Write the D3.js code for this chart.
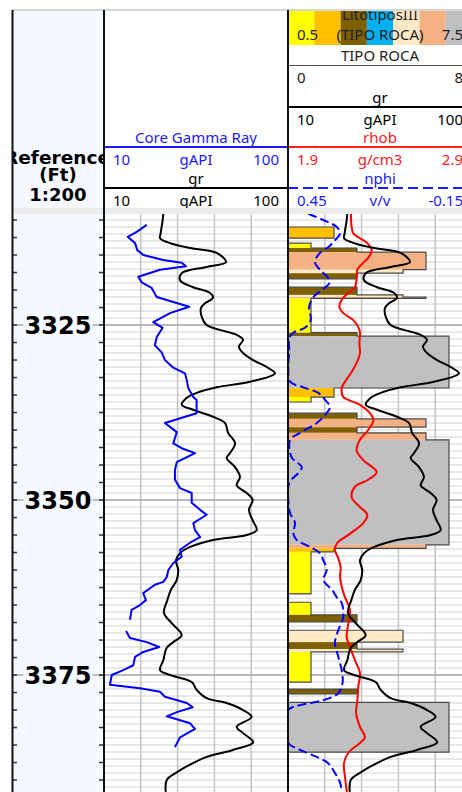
<!DOCTYPE html>
<html>
<head>
<meta charset="utf-8">
<script src="https://cdn.jsdelivr.net/npm/d3@7"></script>
<style>
body { margin: 0; background: #fff; }
svg { display: block; font-family: "Noto Sans", sans-serif; }
</style>
</head>
<body>
<div id="chart"></div>
<script>
// ---- data (depth in ft, value) ----
const grData = [
  [3309.1, 39.0], [3310.0, 38.7], [3311.9, 37.7], [3312.6, 37.4], [3313.3, 42.3], [3314.0, 52.1],
  [3314.7, 65.1], [3316.0, 69.7], [3316.7, 60.2], [3317.6, 48.0], [3318.6, 47.2], [3319.6, 53.5],
  [3320.4, 61.8], [3321.1, 63.3], [3321.9, 59.4], [3322.6, 57.4], [3323.9, 57.9], [3325.0, 60.2],
  [3325.7, 66.7], [3326.4, 74.9], [3327.1, 78.0], [3328.1, 76.0], [3329.0, 78.0], [3330.0, 82.9],
  [3331.0, 89.6], [3331.9, 93.6], [3333.1, 81.4], [3333.9, 65.1], [3334.7, 55.3], [3335.4, 50.5],
  [3336.4, 48.0], [3337.1, 53.5], [3338.1, 63.3], [3339.0, 69.2], [3340.4, 70.7], [3341.9, 74.1],
  [3343.3, 71.6], [3344.0, 70.0], [3345.3, 74.1], [3346.7, 76.5], [3347.9, 74.9], [3349.0, 79.8],
  [3350.0, 82.7], [3351.4, 80.9], [3352.9, 82.7], [3354.3, 84.7], [3355.0, 79.8], [3355.7, 63.3],
  [3356.7, 52.1], [3357.6, 47.2], [3358.6, 45.2], [3360.0, 46.3], [3361.4, 45.6], [3362.9, 42.6],
  [3364.3, 41.0], [3366.1, 39.3], [3367.6, 43.1], [3369.3, 48.0], [3370.3, 43.9], [3371.1, 40.7],
  [3372.9, 39.0], [3374.3, 37.4], [3375.0, 42.3], [3376.0, 52.9], [3377.1, 55.3], [3378.3, 60.2],
  [3379.0, 70.0], [3380.0, 78.0], [3381.0, 82.2], [3382.4, 74.9], [3383.3, 78.0], [3384.6, 83.0],
  [3385.7, 73.1], [3386.7, 60.2], [3387.6, 53.5], [3388.9, 45.6], [3390.0, 40.7], [3391.7, 40.2]
];

const coreGrData = [
  [3310.7, 30.9], [3311.7, 26.0], [3312.4, 21.6], [3313.3, 25.2], [3314.3, 26.3], [3315.0, 29.2],
  [3315.7, 39.0], [3316.1, 48.0], [3316.6, 50.1], [3317.1, 37.4], [3318.1, 26.8], [3318.9, 28.4],
  [3319.7, 33.3], [3321.0, 35.8], [3321.7, 43.9], [3322.4, 51.7], [3323.3, 42.3], [3324.6, 34.1],
  [3325.4, 38.7], [3326.7, 35.8], [3327.9, 34.9], [3328.9, 38.2], [3330.0, 39.8], [3331.1, 43.9],
  [3331.9, 49.6], [3332.9, 50.5], [3334.0, 51.2], [3335.3, 53.7], [3335.7, 55.3], [3337.6, 55.3],
  [3339.0, 39.8], [3340.3, 45.6], [3341.9, 43.9], [3342.6, 48.0], [3343.3, 54.5], [3344.6, 45.6],
  [3345.7, 44.7], [3347.1, 44.7], [3348.3, 47.2], [3349.0, 52.9], [3350.4, 52.9], [3351.4, 57.0],
  [3352.1, 60.2], [3353.3, 53.7], [3354.3, 54.5], [3355.3, 57.0], [3356.1, 52.1], [3357.1, 47.2],
  [3358.1, 48.0], [3359.0, 43.9], [3360.0, 41.5], [3361.0, 40.7], [3361.7, 39.0], [3362.1, 34.9],
  [3363.3, 29.2], [3364.3, 30.5], [3365.0, 27.6], [3365.7, 23.5], [3367.1, 22.7], [3368.0, null],
  [3368.7, 20.8], [3369.7, 22.7], [3370.3, 30.9], [3371.0, 37.0], [3371.7, 29.2], [3372.4, 25.2],
  [3373.6, 24.3], [3374.3, 19.4], [3375.0, 13.8], [3376.4, 12.9], [3376.9, 27.6], [3377.4, 37.4],
  [3378.1, 39.8], [3379.0, 50.5], [3379.6, 53.4], [3380.3, 45.6], [3380.9, 40.7], [3381.9, 52.1],
  [3382.7, 54.5], [3383.9, 47.2], [3385.3, 44.7]
];

const rhobData = [
  [3309.1, 2.242], [3311.0, 2.246], [3311.9, 2.255], [3312.6, 2.291], [3313.3, 2.331], [3314.3, 2.355],
  [3315.4, 2.336], [3316.1, 2.309], [3317.1, 2.277], [3318.3, 2.273], [3319.6, 2.264], [3320.4, 2.228],
  [3321.4, 2.192], [3322.4, 2.179], [3323.3, 2.201], [3324.3, 2.255], [3325.3, 2.282], [3326.1, 2.291],
  [3327.6, 2.288], [3329.0, 2.291], [3330.4, 2.273], [3331.9, 2.241], [3333.1, 2.210], [3334.0, 2.192],
  [3335.3, 2.201], [3335.7, 2.228], [3336.4, 2.291], [3337.6, 2.346], [3338.6, 2.364], [3340.0, 2.336],
  [3341.4, 2.291], [3342.9, 2.273], [3344.3, 2.309], [3346.0, 2.382], [3347.1, 2.336], [3348.1, 2.264],
  [3349.6, 2.246], [3351.0, 2.291], [3352.1, 2.331], [3353.3, 2.309], [3354.3, 2.264], [3355.3, 2.210],
  [3356.1, 2.168], [3357.1, 2.155], [3358.3, 2.173], [3359.6, 2.186], [3361.0, 2.183], [3362.4, 2.192],
  [3363.9, 2.210], [3365.7, 2.237], [3367.6, 2.228], [3369.6, 2.219], [3371.0, 2.237], [3372.9, 2.264],
  [3374.7, 2.291], [3376.7, 2.282], [3378.6, 2.277], [3380.4, 2.270], [3382.4, 2.291], [3383.9, 2.318],
  [3384.7, 2.291], [3386.1, 2.228], [3387.6, 2.204], [3389.6, 2.210], [3391.7, 2.220]
];

const nphiData = [
  [3309.1, 0.384], [3310.0, 0.335], [3311.0, 0.291], [3311.9, 0.280], [3312.9, 0.297], [3313.9, 0.319],
  [3314.7, 0.346], [3316.0, 0.362], [3317.1, 0.346], [3318.3, 0.319], [3319.0, 0.315], [3320.0, 0.340],
  [3321.0, 0.367], [3322.4, 0.381], [3324.3, 0.376], [3325.4, 0.395], [3326.1, 0.433], [3326.9, 0.446],
  [3328.6, 0.446], [3331.0, 0.449], [3333.1, 0.443], [3333.9, 0.400], [3334.7, 0.351], [3335.7, 0.329],
  [3336.7, 0.313], [3337.6, 0.324], [3339.0, 0.356], [3340.4, 0.411], [3341.4, 0.443], [3343.9, 0.438],
  [3345.3, 0.405], [3346.1, 0.416], [3347.6, 0.446], [3350.0, 0.449], [3351.9, 0.443], [3353.3, 0.427],
  [3354.7, 0.433], [3355.7, 0.422], [3356.7, 0.378], [3357.6, 0.346], [3358.6, 0.335], [3360.0, 0.324],
  [3361.4, 0.335], [3362.9, 0.305], [3363.9, 0.291], [3364.7, 0.275], [3366.7, 0.270], [3368.6, 0.286],
  [3370.4, 0.297], [3372.4, 0.286], [3374.3, 0.275], [3376.1, 0.272], [3377.6, 0.286], [3378.6, 0.335],
  [3379.3, 0.411], [3380.0, 0.449], [3382.9, 0.450], [3384.7, 0.449], [3385.7, 0.411], [3386.7, 0.356],
  [3387.6, 0.319], [3389.0, 0.297], [3390.4, 0.280], [3391.7, 0.275]
];

// lithology (TIPO ROCA) intervals
const litoTop  = [3311.0, 3313.3, 3314.0, 3314.6, 3317.1, 3317.6, 3319.6, 3320.7, 3321.0, 3321.2, 3326.1, 3326.6,
                  3334.0, 3335.3, 3337.6, 3338.4, 3339.6, 3340.4, 3341.4, 3356.4, 3356.9, 3357.4, 3364.6, 3366.4,
                  3368.6, 3370.3, 3371.3, 3371.7, 3377.0, 3378.9];
const litoBase = [3312.6, 3314.0, 3314.6, 3317.1, 3317.6, 3318.4, 3320.7, 3321.0, 3321.2, 3326.1, 3326.6, 3334.0,
                  3335.3, 3336.0, 3338.4, 3339.6, 3340.4, 3341.4, 3356.4, 3356.9, 3357.4, 3363.4, 3366.4, 3367.4,
                  3370.3, 3371.3, 3371.7, 3376.0, 3377.7, 3386.0];
const litoCode = [2, 1, 3, 6, 5, 3, 3, 5, 6, 1, 3, 7,
                  2, 1, 3, 6, 3, 6, 7, 6, 2, 1, 1, 3,
                  5, 3, 5, 1, 3, 7];
const litoCodes = [1, 2, 3, 4, 5, 6, 7];
const litoColors = ["#ffff00", "#ffc000", "#7f6000", "#00b0f0", "#ffe9c6", "#f4b183", "#c0c0c0"];

const depthRange = [3309.14, 3391.71];
const depthLabels = [3325, 3350, 3375];

// ---- layout ----
const W = 462, H = 792;
const depthL = 12, depthR = 104;
const t1L = 104, t1R = 288, t2L = 288, t2R = 472;
const headTop = 10, headBot = 208, dataTop = 214;

const svg = d3.select("#chart").append("svg")
    .attr("width", W)
    .attr("height", H);

const y = d3.scaleLinear().domain(depthRange).range([dataTop, H]);
const grX1 = d3.scaleLinear().domain([10, 100]).range([t1L, t1R]);
const grX2 = d3.scaleLinear().domain([10, 100]).range([t2L, t2R]);
const rhobX = d3.scaleLinear().domain([1.9, 2.9]).range([t2L, t2R]);
const nphiX = d3.scaleLinear().domain([0.45, -0.15]).range([t2L, t2R]);
const litoX = d3.scaleLinear().domain([0, 8]).range([t2L, t2R]);
const litoHeadX = d3.scaleLinear().domain([0.5, 7.5]).range([t2L, t2R]);

const defs = svg.append("defs");
function clip(id, x, yy, w, h) {
    defs.append("clipPath").attr("id", id)
        .append("rect").attr("x", x).attr("y", yy).attr("width", w).attr("height", h);
    return "url(#" + id + ")";
}

svg.append("rect").attr("width", W).attr("height", H).attr("fill", "#fff");

// depth column background
svg.append("rect").attr("x", depthL).attr("y", headTop).attr("width", depthR - depthL).attr("height", H - headTop)
    .attr("fill", "#f5f9ff");

// ---- data area grids ----
const grid = svg.append("g").attr("clip-path", clip("gridClip", t1L, dataTop, W - t1L, H - dataTop));
const minorDepths = d3.range(Math.ceil(depthRange[0]), depthRange[1], 1);
grid.selectAll("line.minor").data(minorDepths).join("line")
    .attr("x1", t1L).attr("x2", t2R)
    .attr("y1", d => y(d)).attr("y2", d => y(d))
    .attr("stroke", "#e0e0e0").attr("stroke-width", 1.5);

const vTicks = d3.range(28, 100, 18);
grid.selectAll("line.v1").data(vTicks).join("line")
    .attr("x1", d => grX1(d)).attr("x2", d => grX1(d))
    .attr("y1", dataTop).attr("y2", H)
    .attr("stroke", "#c4c4c4").attr("stroke-width", 1.5);
grid.selectAll("line.v2").data(vTicks).join("line")
    .attr("x1", d => grX2(d)).attr("x2", d => grX2(d))
    .attr("y1", dataTop).attr("y2", H)
    .attr("stroke", "#c4c4c4").attr("stroke-width", 1.5);

// major depth lines across all columns
svg.selectAll("line.major").data(depthLabels).join("line")
    .attr("x1", depthL).attr("x2", W)
    .attr("y1", d => y(d)).attr("y2", d => y(d))
    .attr("stroke", "#a9a9a9").attr("stroke-width", 1.5);

// depth ticks every 2.5 ft
const tickDepths = d3.range(3310, depthRange[1], 2.5);
const dt = svg.append("g");
dt.selectAll("line.tl").data(tickDepths).join("line")
    .attr("x1", depthL).attr("x2", depthL + 5)
    .attr("y1", d => y(d)).attr("y2", d => y(d))
    .attr("stroke", "#333").attr("stroke-width", 1.5);
dt.selectAll("line.tr").data(tickDepths).join("line")
    .attr("x1", depthR - 5).attr("x2", depthR)
    .attr("y1", d => y(d)).attr("y2", d => y(d))
    .attr("stroke", "#333").attr("stroke-width", 1.5);

// depth labels
depthLabels.forEach(d => {
    const g = svg.append("g");
    const bg = g.append("rect").attr("fill", "#f5f9ff");
    const t = g.append("text")
        .attr("x", (depthL + depthR) / 2).attr("y", y(d) + 9)
        .attr("text-anchor", "middle")
        .style("font-family", "'DejaVu Sans', sans-serif")
        .style("font-weight", "bold").style("font-size", "24px")
        .attr("fill", "#000")
        .text(d);
    const w = t.node().getComputedTextLength();
    bg.attr("x", (depthL + depthR) / 2 - w / 2 - 1).attr("width", w + 2)
        .attr("y", y(d) - 3).attr("height", 6);
});

// ---- lithology bars ----
const t2 = svg.append("g").attr("clip-path", clip("t2Clip", t2L, dataTop, t2R - t2L, H - dataTop));
t2.selectAll("rect.lito").data(litoTop).join("rect")
    .attr("x", t2L)
    .attr("y", d => y(d))
    .attr("width", (d, i) => litoX(litoCode[i]) - t2L)
    .attr("height", (d, i) => y(litoBase[i]) - y(d))
    .attr("fill", (d, i) => litoColors[litoCode[i] - 1]);

const outline = [];
litoTop.forEach((t, i) => {
    const b = litoBase[i], c = litoCode[i];
    if (i === 0 || litoBase[i - 1] < t - 1e-6) outline.push([0, t]);
    outline.push([c, t]);
    outline.push([c, b]);
    if (i === litoTop.length - 1 || litoTop[i + 1] > b + 1e-6) outline.push([0, b]);
});
t2.append("path")
    .attr("d", d3.line().x(p => litoX(p[0])).y(p => y(p[1]))(outline))
    .attr("fill", "none").attr("stroke", "#4a4a4a").attr("stroke-width", 1.2);

// ---- curves ----
function curve(g, data, xs, color, smooth, dash) {
    const line = d3.line()
        .defined(d => d[1] != null)
        .x(d => xs(d[1]))
        .y(d => y(d[0]))
        .curve(smooth ? d3.curveCatmullRom.alpha(0.5) : d3.curveLinear);
    g.append("path")
        .attr("d", line(data))
        .attr("fill", "none")
        .attr("stroke", color)
        .attr("stroke-width", 2)
        .attr("stroke-dasharray", dash || null)
        .attr("stroke-linejoin", "round");
}

curve(t2, nphiData, nphiX, "#0000ff", true, "9,4");
curve(t2, rhobData, rhobX, "#ff0000", true);
curve(t2, grData, grX2, "#000000", true);

const t1 = svg.append("g").attr("clip-path", clip("t1Clip", t1L, dataTop, t1R - t1L, H - dataTop));
curve(t1, grData, grX1, "#000000", true);
curve(t1, coreGrData, grX1, "#0000ff", false);

// ---- header ----
svg.append("rect").attr("x", depthL).attr("y", headBot).attr("width", W - depthL).attr("height", dataTop - headBot)
    .attr("fill", "#ebebeb");

const dh = svg.append("g").attr("clip-path", clip("dhClip", depthL + 1, headTop, depthR - depthL - 2, headBot - headTop))
    .style("font-family", "'DejaVu Sans', sans-serif")
    .style("font-weight", "bold").style("font-size", "18px")
    .attr("text-anchor", "middle").attr("fill", "#000");
dh.append("text").attr("x", (depthL + depthR) / 2 - 1).attr("y", 164)
    .attr("textLength", 106).attr("lengthAdjust", "spacingAndGlyphs").text("Reference");
dh.append("text").attr("x", (depthL + depthR) / 2).attr("y", 181).text("(Ft)");
dh.append("text").attr("x", (depthL + depthR) / 2).attr("y", 201).text("1:200");

function curveHeader(g, x0, x1, lineY, name, unit, lo, hi, color, dash) {
    const cx = (x0 + x1) / 2;
    g.append("text").attr("x", cx).attr("y", lineY - 4).attr("text-anchor", "middle").attr("fill", color).text(name);
    g.append("line").attr("x1", x0).attr("x2", x1).attr("y1", lineY).attr("y2", lineY)
        .attr("stroke", color).attr("stroke-width", 2).attr("stroke-dasharray", dash || null);
    g.append("text").attr("x", x0 + 9).attr("y", lineY + 18).attr("fill", color).text(lo);
    g.append("text").attr("x", cx).attr("y", lineY + 18).attr("text-anchor", "middle").attr("fill", color).text(unit);
    g.append("text").attr("x", x1 - 9).attr("y", lineY + 18).attr("text-anchor", "end").attr("fill", color).text(hi);
}

const h1 = svg.append("g").attr("clip-path", clip("h1Clip", t1L, headTop, t1R - t1L, headBot - headTop))
    .style("font-size", "15px");
curveHeader(h1, t1L, t1R, 147, "Core Gamma Ray", "gAPI", "10", "100", "#1a1aff");
curveHeader(h1, t1L, t1R, 188, "gr", "gAPI", "10", "100", "#000");

const h2 = svg.append("g").attr("clip-path", clip("h2Clip", t2L, headTop + 1, t2R - t2L, headBot - headTop - 1))
    .style("font-size", "15px");
h2.selectAll("rect.leg").data(litoCodes).join("rect")
    .attr("x", d => litoHeadX(d - 0.5))
    .attr("width", d => litoHeadX(d + 0.5) - litoHeadX(d - 0.5))
    .attr("y", headTop).attr("height", 35)
    .attr("fill", (d, i) => litoColors[i]);
const cx2 = (t2L + t2R) / 2;
h2.append("text").attr("x", cx2).attr("y", 20).attr("text-anchor", "middle").attr("fill", "#222").text("LitotiposIII");
h2.append("text").attr("x", t2L + 9).attr("y", 40).attr("fill", "#222").text("0.5");
h2.append("text").attr("x", cx2).attr("y", 40).attr("text-anchor", "middle").attr("fill", "#222").text("(TIPO ROCA)");
h2.append("text").attr("x", t2R - 9).attr("y", 40).attr("text-anchor", "end").attr("fill", "#222").text("7.5");
h2.append("text").attr("x", cx2).attr("y", 61).attr("text-anchor", "middle").attr("fill", "#222").text("TIPO ROCA");
h2.append("line").attr("x1", t2L).attr("x2", t2R).attr("y1", 65.5).attr("y2", 65.5).attr("stroke", "#555").attr("stroke-width", 1);
h2.append("text").attr("x", t2L + 9).attr("y", 83).attr("fill", "#222").text("0");
h2.append("text").attr("x", t2R - 9).attr("y", 83).attr("text-anchor", "end").attr("fill", "#222").text("8");
curveHeader(h2, t2L, t2R, 107, "gr", "gAPI", "10", "100", "#000");
curveHeader(h2, t2L, t2R, 147, "rhob", "g/cm3", "1.9", "2.9", "#ff2020");
curveHeader(h2, t2L, t2R, 188, "nphi", "v/v", "0.45", "-0.15", "#1a1aff", "10,5");

// top border and column borders
svg.append("line").attr("x1", depthL).attr("x2", W).attr("y1", headTop).attr("y2", headTop)
    .attr("stroke", "#c8c8c8").attr("stroke-width", 1.5);
[depthL + 0.5, depthR, t1R].forEach(x => {
    svg.append("line").attr("x1", x).attr("x2", x).attr("y1", headTop).attr("y2", H)
        .attr("stroke", "#111").attr("stroke-width", 2);
});
</script>
</body>
</html>
